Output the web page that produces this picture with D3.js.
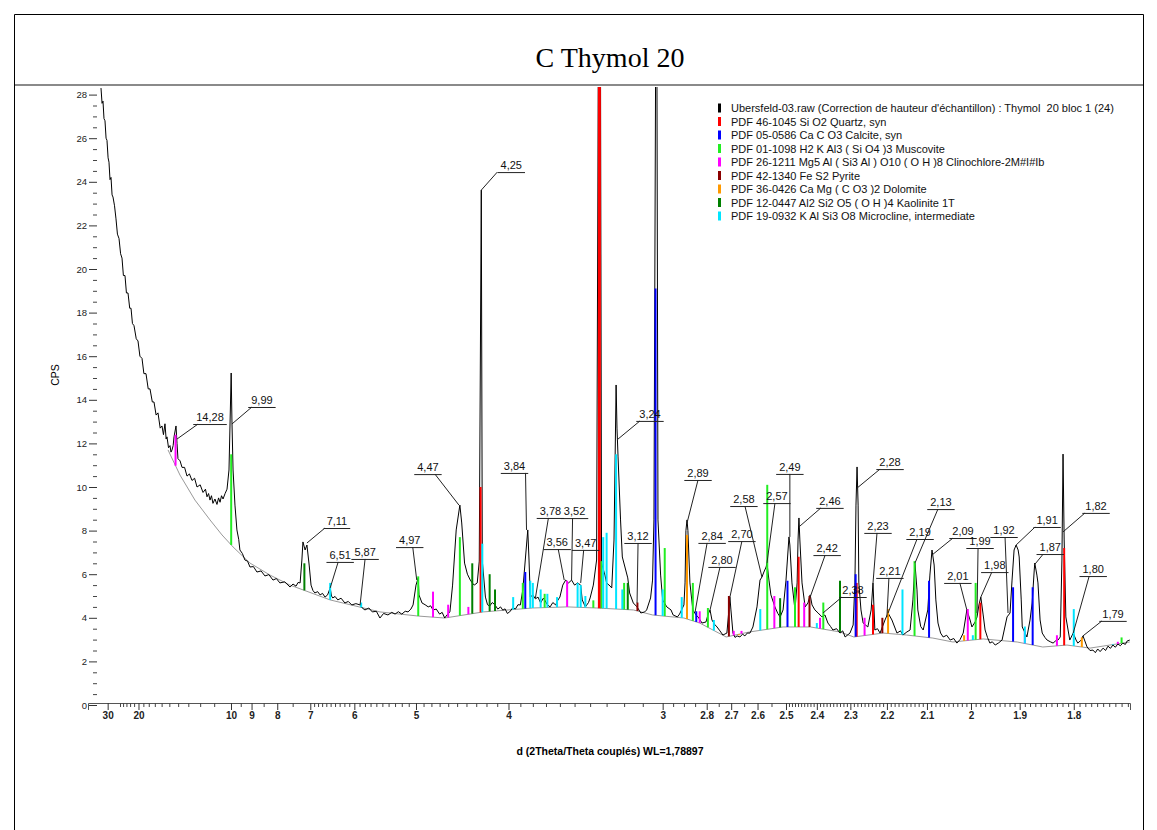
<!DOCTYPE html>
<html><head><meta charset="utf-8">
<script src="https://cdn.jsdelivr.net/npm/d3@7"></script>
<style>
body{margin:0;background:#fff;}
svg{display:block;font-family:Arial,"Liberation Sans",sans-serif;}
</style></head><body>
<svg id="c" width="1157" height="830"></svg>
<script>
// ---------------- DATA ----------------
const chartTitle = "C Thymol 20";
const xTitle = "d (2Theta/Theta couplés) WL=1,78897";
const yTitle = "CPS";
const xMajorTicks = [30,20,10,9,8,7,6,5,4,3,2.8,2.7,2.6,2.5,2.4,2.3,2.2,2.1,2,1.9,1.8];
const yMajorTicks = [0,2,4,6,8,10,12,14,16,18,20,22,24,26,28];

const legendLabels = [
  "Ubersfeld-03.raw (Correction de hauteur d'échantillon) : Thymol  20 bloc 1 (24)",
  "PDF 46-1045 Si O2 Quartz, syn",
  "PDF 05-0586 Ca C O3 Calcite, syn",
  "PDF 01-1098 H2 K Al3 ( Si O4 )3 Muscovite",
  "PDF 26-1211 Mg5 Al ( Si3 Al ) O10 ( O H )8 Clinochlore-2M#I#Ib",
  "PDF 42-1340 Fe S2 Pyrite",
  "PDF 36-0426 Ca Mg ( C O3 )2 Dolomite",
  "PDF 12-0447 Al2 Si2 O5 ( O H )4 Kaolinite 1T",
  "PDF 19-0932 K Al Si3 O8 Microcline, intermediate"
];

// measured scan: [d (Å), CPS]
const scan = [
[33.64,28.3],[33.0,27.6],[32.46,27.7],[31.9,26.9],[31.36,26.8],[30.8,26.0],[30.33,25.9],[29.8,25.1],[29.37,24.9],[28.9,24.1],[28.46,24.2],[28.0,23.4],[27.61,23.3],[27.0,22.9],[26.43,22.3],[25.9,21.6],[25.34,21.4],[24.8,20.7],[24.34,20.5],[23.9,19.7],[23.42,19.7],[23.0,18.9],[22.56,18.9],[22.1,18.2],[21.76,18.2],[21.4,17.5],[21.02,17.4],[20.5,16.8],[20.11,16.7],[19.7,16.0],[19.27,15.9],[18.9,15.2],[18.5,15.2],[18.1,14.5],[17.79,14.5],[17.4,13.9],[17.13,13.9],[16.8,13.3],[16.52,13.4],[16.2,12.7],[15.95,12.8],[15.75,12.4],[15.55,12.9],[15.4,12.2],[15.29,12.3],[15.1,11.8],[14.92,11.9],[14.8,11.6],[14.68,11.7],[14.55,11.9],[14.45,12.3],[14.23,12.8],[14.12,12.0],[14.02,11.3],[13.8,11.2],[13.6,10.9],[13.35,10.9],[13.12,10.5],[12.9,10.6],[12.67,10.3],[12.45,10.4],[12.25,10.0],[12.0,10.1],[11.78,9.75],[11.6,9.9],[11.49,9.55],[11.38,9.7],[11.28,9.4],[11.18,9.6],[11.08,9.25],[10.95,9.45],[10.82,9.2],[10.72,9.5],[10.63,9.3],[10.54,9.6],[10.45,9.45],[10.33,9.7],[10.22,9.9],[10.11,10.78],
[9.99,15.23],[9.95,13.07],[9.89,10.78],[9.79,9.17],[9.69,8.03],[9.60,7.6],[9.54,7.11],[9.42,6.95],[9.30,6.65],[9.18,6.6],[9.07,6.33],[8.92,6.35],[8.77,6.10],[8.6,6.15],[8.45,5.92],[8.3,5.98],[8.15,5.73],[8.03,5.8],[7.91,5.60],[7.75,5.65],[7.58,5.41],[7.49,5.55],[7.40,5.45],[7.34,5.62],[7.28,5.60],[7.23,6.65],[7.20,7.48],[7.14,7.11],[7.09,7.34],[7.03,6.42],
[6.98,5.50],[6.93,5.25],[6.88,5.14],[6.81,5.2],[6.75,5.05],[6.69,5.12],[6.63,4.95],[6.57,5.05],[6.51,5.37],[6.48,5.0],[6.45,4.91],[6.40,4.98],[6.34,4.82],[6.27,4.9],[6.19,4.68],[6.12,4.75],[6.05,4.59],[5.97,4.65],[5.89,4.59],[5.85,4.45],[5.80,4.36],[5.73,4.45],[5.67,4.27],[5.60,4.3],[5.54,3.99],[5.48,4.2],[5.41,4.13],[5.35,4.25],[5.30,4.17],[5.25,4.28],[5.20,4.17],[5.15,4.3],[5.11,4.27],[5.07,4.4],[5.04,4.59],
[5.00,5.50],[4.97,5.83],[4.96,5.05],[4.92,4.68],[4.88,4.6],[4.84,4.50],[4.81,4.55],[4.78,4.36],[4.74,4.4],[4.70,4.17],[4.67,4.25],[4.64,3.99],[4.61,4.15],[4.58,4.27],[4.55,5.50],[4.51,8.03],[4.47,9.17],[4.45,8.35],[4.42,6.51],[4.39,6.0],[4.36,5.73],[4.34,5.6],[4.32,5.50],[4.29,5.60],[4.27,6.6],[4.25,23.62],[4.24,6.6],[4.21,4.95],[4.19,4.6],[4.17,4.54],[4.145,4.7],[4.12,4.59],[4.095,4.4],[4.07,4.50],[4.05,4.35],[4.03,4.41],[4.01,4.2],[3.99,4.27],[3.965,4.45],[3.94,4.41],[3.92,4.6],[3.90,4.59],[3.88,5.28],[3.85,7.34],[3.84,8.03],[3.83,6.65],[3.82,4.95],[3.80,5.05],[3.78,4.87],[3.76,4.95],[3.74,4.68],[3.72,4.9],[3.71,4.82],[3.69,4.6],[3.67,4.50],[3.65,4.7],[3.63,4.59],[3.615,4.8],[3.60,4.95],[3.58,5.50],[3.56,5.73],[3.54,5.60],[3.52,5.73],[3.50,5.50],[3.48,5.60],[3.46,5.50],[3.45,4.82],[3.43,4.50],[3.41,4.7],[3.40,4.91],[3.38,5.50],[3.36,6.65],[3.35,28.6],[3.336,28.6],[3.33,6.51],[3.31,5.96],[3.30,5.60],[3.28,5.46],[3.27,5.37],[3.257,7.57],[3.245,14.68],[3.24,12.7],[3.234,11.38],[3.22,8.49],[3.21,6.79],[3.18,5.83],[3.17,5.14],[3.15,4.68],[3.13,4.50],[3.11,4.22],[3.09,4.27],[3.08,4.36],[3.06,4.91],[3.05,5.73],[3.043,8.49],[3.035,28.6],[3.028,28.6],[3.023,8.49],[3.01,5.96],[3.00,4.82],[2.98,4.50],[2.96,4.36],[2.95,4.13],[2.93,4.04],[2.92,4.17],[2.90,4.59],[2.895,5.60],[2.891,8.0],[2.886,8.49],[2.882,8.0],[2.873,5.60],[2.86,4.36],[2.846,4.13],[2.837,4.04],[2.82,3.76],[2.803,3.81],[2.795,4.13],[2.786,4.36],[2.778,3.90],[2.767,3.7],[2.757,3.58],[2.745,3.4],[2.733,3.21],[2.717,3.30],[2.709,4.36],[2.705,4.95],[2.701,4.36],[2.693,3.30],[2.685,3.1],[2.677,3.17],[2.666,3.12],[2.656,3.25],[2.647,3.17],[2.638,3.3],[2.628,3.30],[2.617,3.58],[2.602,4.50],[2.591,5.73],[2.584,5.87],[2.577,6.10],[2.569,6.33],[2.566,6.51],[2.559,5.73],[2.552,5.05],[2.538,4.50],[2.528,4.2],[2.520,4.04],[2.510,4.36],[2.500,5.73],[2.493,7.11],[2.490,7.71],[2.487,7.34],[2.480,5.60],[2.470,4.36],[2.463,5.60],[2.460,7.57],[2.457,8.58],[2.454,7.57],[2.447,5.60],[2.437,4.50],[2.428,4.68],[2.421,5.05],[2.415,4.59],[2.406,4.36],[2.396,4.22],[2.384,4.04],[2.375,4.13],[2.366,3.76],[2.358,3.6],[2.351,3.44],[2.340,3.5],[2.330,3.30],[2.322,3.4],[2.315,3.12],[2.301,3.30],[2.292,3.67],[2.287,5.60],[2.284,9.17],[2.281,10.92],[2.278,9.17],[2.276,5.60],[2.270,4.36],[2.264,3.76],[2.251,3.58],[2.242,4.36],[2.237,5.60],[2.232,3.44],[2.225,3.5],[2.218,3.30],[2.205,3.90],[2.197,4.22],[2.187,3.90],[2.174,3.30],[2.165,3.4],[2.159,3.21],[2.149,3.35],[2.141,3.44],[2.134,4.82],[2.129,6.51],[2.124,5.28],[2.122,4.36],[2.115,3.6],[2.109,3.44],[2.098,4.36],[2.093,5.96],[2.088,7.11],[2.083,6.42],[2.079,4.82],[2.074,3.76],[2.068,3.3],[2.062,3.12],[2.054,3.2],[2.046,2.98],[2.038,3.05],[2.031,2.84],[2.024,3.0],[2.017,3.30],[2.009,4.36],[2.002,3.90],[1.998,3.58],[1.991,3.81],[1.987,4.04],[1.983,4.59],[1.979,4.95],[1.974,4.13],[1.970,3.44],[1.965,3.1],[1.960,2.84],[1.955,2.9],[1.949,2.75],[1.942,2.85],[1.935,2.98],[1.925,4.04],[1.919,4.22],[1.915,5.73],[1.911,7.11],[1.907,7.34],[1.903,7.11],[1.901,6.79],[1.897,4.82],[1.895,3.58],[1.886,3.12],[1.880,3.90],[1.876,4.68],[1.872,6.19],[1.871,6.51],[1.867,5.96],[1.865,5.60],[1.861,3.90],[1.857,3.30],[1.852,3.1],[1.848,2.98],[1.842,2.9],[1.837,2.84],[1.832,2.95],[1.828,2.98],[1.824,3.12],[1.821,6.65],[1.819,11.51],[1.817,7.57],[1.814,4.04],[1.807,2.98],[1.801,3.30],[1.796,2.98],[1.793,2.84],[1.787,2.98],[1.784,3.17],[1.777,2.66],[1.772,2.5],[1.767,2.52],[1.763,2.4],[1.759,2.57],[1.755,2.45],[1.750,2.61],[1.746,2.5],[1.742,2.70],[1.738,2.6],[1.734,2.75],[1.730,2.65],[1.726,2.80],[1.722,2.72],[1.718,2.84],[1.714,2.78],[1.711,2.94],[1.707,2.98]
];

// fitted background: [d, CPS]
const background = [
[15.16,11.70],[13.81,10.55],[12.42,9.40],[11.28,8.49],[10.51,7.80],[9.89,7.25],[9.07,6.51],[8.26,5.96],[7.58,5.50],[6.51,4.82],[5.54,4.27],[4.97,4.08],[4.64,3.99],[4.23,4.27],[3.80,4.45],[3.55,4.50],[3.36,4.45],[3.15,4.36],[3.05,4.13],[2.90,3.99],[2.83,3.76],[2.72,3.12],[2.63,3.35],[2.51,3.58],[2.42,3.58],[2.33,3.35],[2.29,3.12],[2.21,3.30],[2.15,3.21],[2.086,3.07],[2.04,2.89],[1.974,3.03],[1.905,2.89],[1.856,2.66],[1.812,2.75],[1.772,2.61],[1.707,2.89]
];

// reference patterns: [d, top CPS]
const quartz = [[4.257,10.0],[3.343,29],[2.458,6.8],[2.282,5.6],[2.237,4.6],[1.980,4.7],[1.817,7.2]];
const calcite = [[3.86,6.1],[3.035,19.1],[2.845,4.3],[2.495,5.7],[2.285,6.0],[2.095,5.7],[1.913,5.4],[1.875,5.4]];
const muscovite = [[9.99,11.5],[4.97,5.9],[4.47,7.7],[3.88,5.6],[3.71,5.1],[3.38,4.8],[3.33,6.6],[3.20,5.6],[2.99,7.2],[2.86,5.6],[2.795,4.45],[2.565,10.1],[2.47,5.4],[2.38,4.7],[2.13,6.6],[1.99,5.6],[1.72,3.1]];
const clinochlore = [[14.28,12.4],[4.78,5.2],[4.60,4.6],[4.38,4.5],[3.55,5.7],[2.83,4.3],[2.69,3.4],[2.66,3.4],[2.54,5.0],[2.44,4.7],[2.39,4.0],[2.26,4.0],[2.007,4.4],[1.89,3.4],[1.83,3.2],[1.726,2.9]];
const pyrite = [[3.128,4.7],[2.709,5.0],[2.423,5.0],[2.212,4.0]];
const dolomite = [[2.886,7.8],[2.67,3.2],[2.197,4.4],[2.015,3.2],[1.786,3.1]];
const kaolinite = [[7.16,6.5],[4.34,6.5],[4.17,6.0],[4.12,5.3],[3.18,5.6],[2.52,4.9],[2.33,5.7]];
const microcline = [[6.51,5.6],[5.87,4.7],[4.24,7.4],[3.96,4.95],[3.82,5.7],[3.80,5.6],[3.74,5.3],[3.69,5.1],[3.62,4.95],[3.48,5.6],[3.46,5.5],[3.43,5.0],[3.32,7.7],[3.30,7.9],[3.245,11.5],[3.21,5.3],[3.00,5.3],[2.91,4.95],[2.77,3.9],[2.59,4.4],[2.40,3.76],[2.16,5.3],[1.996,3.2],[1.89,3.6],[1.80,4.4],[1.734,2.8]];

// peak labels: [text, d, CPS of the marked point]
const peakLabels = [
["14,28",14.12,12.20],["9,99",9.95,12.89],["7,11",7.09,7.43],["6,51",6.51,5.37],["5,87",5.89,4.59],
["4,97",4.99,5.73],["4,47",4.48,9.17],["4,25",4.25,23.62],["3,84",3.85,8.03],["3,78",3.78,4.91],
["3,52",3.52,5.73],["3,56",3.57,5.73],["3,47",3.46,5.60],["3,24",3.24,12.16],["3,12",3.13,4.68],
["2,89",2.886,8.35],["2,84",2.85,4.27],["2,80",2.786,4.36],["2,70",2.705,4.95],["2,58",2.584,5.87],
["2,57",2.566,6.51],["2,49",2.487,7.71],["2,46",2.457,8.17],["2,42",2.421,4.95],["2,38",2.381,4.22],
["2,28",2.281,9.95],["2,23",2.237,5.60],["2,21",2.20,4.04],["2,19",2.197,4.22],["2,13",2.129,6.51],
["2,09",2.088,6.88],["2,01",2.009,4.36],["1,99",1.987,4.22],["1,98",1.979,4.95],["1,92",1.923,4.22],
["1,91",1.907,7.34],["1,87",1.872,6.42],["1,82",1.819,7.94],["1,80",1.801,3.30],["1,79",1.784,3.17]
];

// ---------------- LAYOUT / STYLE ----------------
// label placement in px relative to the marked point: [text dx, underline dy, leader dx]
const labelLayout = [
[33,-15,21],[30,-17,20],[30,-15,18],[10,-26,8],[5,-46,5],
[-7,-33,-4],[-31,-31,-24],[30,-18,16],[-12,-57,-1],[15,-80,13],
[3,-62,1],[-7,-31,-6],[5,-33,3],[33,-19,23],[1,-60,1],
[11,-43,11],[17,-69,12],[12,-43,10],[12,-56,12],[-18,-71,-17],
[10,-60,8],[0,-63,0],[31,-19,22],[17,-42,15],[30,-16,19],
[33,-19,23],[5,-50,4],[3,-39,2],[32,-74,29],[26,-54,23],
[31,-17,21],[-9,-27,-7],[3,-65,1],[14,-25,11],[-4,-76,-3],
[31,-18,19],[16,-11,9],[33,-19,22],[20,-57,16],[30,-15,19]
];
const phaseColors = ["#000000","#ff0000","#0000ff","#22ee22","#ff00ff","#8b0000","#ff9900","#008000","#00e5ff"];
const phases = [quartz, calcite, muscovite, clinochlore, pyrite, dolomite, kaolinite, microcline];

const svg = d3.select("#c");
const W = 1157, H = 830;

// x is linear in 1/d (as in the instrument plot)
const xq = d3.scaleLinear().domain([0.022703, 0.585946]).range([88, 1130]);
const X = d => xq(1 / d);
const Y = d3.scaleLinear().domain([0, 28]).range([705, 94.6]);
const plotTop = 87;

// frame
svg.append("rect").attr("x",0).attr("y",0).attr("width",W).attr("height",H).attr("fill","#fff");
svg.append("path").attr("d",`M14.5,${H} V14.5 H1143.5 V${H}`).attr("fill","none").attr("stroke","#000").attr("stroke-width",1);
svg.append("line").attr("x1",15).attr("x2",1143).attr("y1",85).attr("y2",85).attr("stroke","#8a8a8a").attr("stroke-width",2);
svg.append("text").attr("x",610).attr("y",67).attr("text-anchor","middle")
  .attr("font-family","'Liberation Serif','Times New Roman',serif").attr("font-size",28).text(chartTitle);

// clip
svg.append("clipPath").attr("id","pc").append("rect").attr("x",88).attr("y",plotTop).attr("width",1050).attr("height",705-plotTop);
const plot = svg.append("g").attr("clip-path","url(#pc)");

// background line
const bgPts = background.map(p => [X(p[0]), Y(p[1])]);
plot.append("path").attr("d", d3.line()(bgPts)).attr("fill","none").attr("stroke","#999").attr("stroke-width",1);
function bgAt(px){
  if (px <= bgPts[0][0]) return bgPts[0][1];
  for (let i=1;i<bgPts.length;i++){
    if (px <= bgPts[i][0]){
      const a=bgPts[i-1], b=bgPts[i]; const t=(px-a[0])/(b[0]-a[0]);
      return a[1]+t*(b[1]-a[1]);
    }
  }
  return bgPts[bgPts.length-1][1];
}

// scan
plot.append("path").attr("d", d3.line().x(p=>X(p[0])).y(p=>Y(p[1]))(scan))
  .attr("fill","none").attr("stroke","#000").attr("stroke-width",1);

// sticks
phases.forEach((arr, k) => {
  const col = phaseColors[k+1];
  plot.append("g").selectAll("line").data(arr).join("line")
    .attr("x1", p=>X(p[0])).attr("x2", p=>X(p[0]))
    .attr("y1", p=>bgAt(X(p[0]))).attr("y2", p=>Y(p[1]))
    .attr("stroke", col).attr("stroke-width", p => p[1] > 20 ? 3 : 2);
});

// peak labels
const lab = svg.append("g").attr("font-size",11).attr("fill","#111");
peakLabels.forEach((p, i) => {
  const ax = X(p[1]), ay = Y(p[2]);
  const [dx, dy, lx] = labelLayout[i];
  const cx = ax + dx, uy = ay + dy;
  const t = lab.append("text").attr("x",cx).attr("y",uy-3).attr("text-anchor","middle").text(p[0]);
  const w = t.node().getComputedTextLength();
  lab.append("line").attr("x1",cx-w/2-3).attr("x2",cx+w/2+3).attr("y1",uy+0.5).attr("y2",uy+0.5)
    .attr("stroke","#222").attr("stroke-width",1);
  lab.append("line").attr("x1",ax+lx).attr("y1",uy).attr("x2",ax).attr("y2",ay)
    .attr("stroke","#222").attr("stroke-width",1);
});

// axes
const xMinor = [25,24,23,22,21,19,18,17,16,15,14,13,12,11,9.5,8.5,7.5]
  .concat(d3.range(69,40,-1).filter(v=>v%10!==0).map(v=>v/10))
  .concat(d3.range(39,30,-1).map(v=>v/10))
  .concat([2.95,2.9,2.85,2.75,2.65,2.55])
  .concat(d3.range(249,170,-1).filter(v=>v%10!==0).map(v=>v/100));
const xAxisG = svg.append("g").attr("transform","translate(0,703)");
xAxisG.call(d3.axisBottom(xq).tickValues(xMajorTicks.map(v=>1/v))
  .tickFormat(q=>String(+(1/q).toFixed(2))).tickSize(7).tickPadding(2));
xAxisG.select(".domain").attr("stroke","#555");
xAxisG.selectAll(".tick line").attr("stroke","#333");
xAxisG.selectAll(".tick text").attr("font-size",10).attr("font-weight","bold").attr("fill","#222");
const xMinorG = svg.append("g").attr("transform","translate(0,703)");
xMinorG.call(d3.axisBottom(xq).tickValues(xMinor.map(v=>1/v)).tickFormat("").tickSize(4));
xMinorG.select(".domain").remove();
xMinorG.selectAll(".tick line").attr("stroke","#444");

const yAxisG = svg.append("g").attr("transform","translate(97,0)");
yAxisG.call(d3.axisLeft(Y).tickValues(yMajorTicks).tickSize(8).tickPadding(2));
yAxisG.select(".domain").remove();
yAxisG.selectAll(".tick line").attr("stroke","#333");
yAxisG.selectAll(".tick text").attr("font-size",9.5).attr("fill","#222");
const yMinorG = svg.append("g").attr("transform","translate(97,0)");
yMinorG.call(d3.axisLeft(Y).tickValues(d3.range(0,28.5,0.5).filter(v=>v%2!==0)).tickFormat("").tickSize(4));
yMinorG.select(".domain").remove();
yMinorG.selectAll(".tick line").attr("stroke","#444");

svg.append("text").attr("x",610).attr("y",755).attr("text-anchor","middle")
  .attr("font-size",10.5).attr("font-weight","bold").text(xTitle);
svg.append("text").attr("transform","translate(59,375) rotate(-90)").attr("text-anchor","middle")
  .attr("font-size",10.5).text(yTitle);

// legend
const leg = svg.append("g");
legendLabels.forEach((t,i)=>{
  const yy = 108 + i*13.5;
  leg.append("rect").attr("x",718).attr("y",yy-4.5).attr("width",3).attr("height",9).attr("fill",phaseColors[i]);
  leg.append("text").attr("x",731).attr("y",yy+4).attr("font-size",11).attr("fill","#111")
    .attr("xml:space","preserve").text(t);
});
</script>
</body></html>
